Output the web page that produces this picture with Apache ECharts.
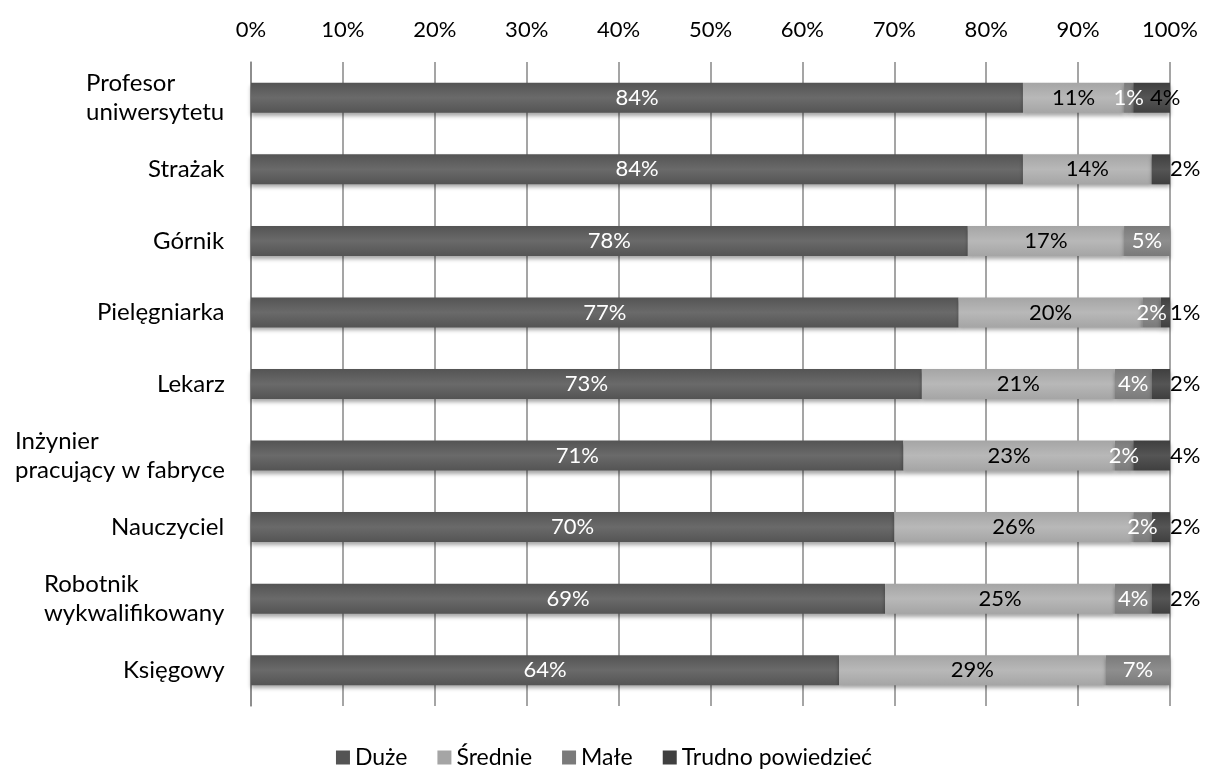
<!DOCTYPE html>
<html>
<head>
<meta charset="utf-8">
<script src="https://cdn.jsdelivr.net/npm/echarts@6/dist/echarts.min.js"></script>
<style>
  html, body { margin: 0; padding: 0; background: #fff; }
  #chart { width: 1208px; height: 770px; }
</style>
</head>
<body>
<div id="chart"></div>
<script>
// kategorie (od góry) i udziały odpowiedzi w %
var kategorie = ['Profesor\nuniwersytetu', 'Strażak', 'Górnik', 'Pielęgniarka', 'Lekarz',
    'Inżynier\npracujący w fabryce', 'Nauczyciel', 'Robotnik\nwykwalifikowany', 'Księgowy'];
var seriaNazwy = ['Duże', 'Średnie', 'Małe', 'Trudno powiedzieć'];
var duze    = [84, 84, 78, 77, 73, 71, 70, 69, 64];
var srednie = [11, 14, 17, 20, 21, 23, 26, 25, 29];
var male    = [1, 0, 5, 2, 4, 2, 2, 4, 7];
var trudno  = [4, 2, 0, 1, 2, 4, 2, 2, 0];
var osX = [0, 10, 20, 30, 40, 50, 60, 70, 80, 90, 100];

var FONT = 'Lato, "Open Sans", sans-serif';
var kolory = ['#545454', '#a5a5a5', '#7a7a7a', '#3f3f3f'];
var jasne  = ['#6a6a6a', '#b8b8b8', '#8e8e8e', '#555555'];
var kolorEtykiet = ['#fff', '#000', '#fff', '#000'];

// szerokość najdłuższej linii każdej etykiety (linie wyrównane do lewej w bloku)
var ctx = document.createElement('canvas').getContext('2d');
ctx.font = '24px ' + FONT;
var rich = {};
kategorie.forEach(function(k, i) {
    var w = 0;
    k.split('\n').forEach(function(l) { w = Math.max(w, ctx.measureText(l).width); });
    rich['c' + i] = { width: Math.ceil(w) + 1, align: 'left', fontSize: 24, fontFamily: FONT, color: '#000', lineHeight: 29 };
});

function gradient(i) {
    return new echarts.graphic.LinearGradient(0, 0, 0, 1, [
        { offset: 0, color: kolory[i] },
        { offset: 0.5, color: jasne[i] },
        { offset: 1, color: kolory[i] }
    ]);
}

var dane = [duze, srednie, male, trudno];
var series = dane.map(function(arr, i) {
    var d = arr.map(function(v, j) {
        var item = { value: v };
        if (i === 3 && j === 0) item.label = { offset: [-20, 0] };
        return item;
    });
    return {
        name: seriaNazwy[i],
        type: 'bar',
        stack: 'all',
        barWidth: 30,
        data: d,
        itemStyle: {
            color: gradient(i),
            shadowColor: 'rgba(0,0,0,0.35)',
            shadowBlur: 4,
            shadowOffsetY: 3
        },
        label: {
            show: true,
            position: i === 3 ? 'right' : 'inside',
            distance: 0,
            color: kolorEtykiet[i],
            fontSize: 22,
            fontFamily: FONT,
            formatter: function(p) { return p.value > 0 ? p.value + '%' : ''; }
        },
        emphasis: { disabled: true }
    };
});

var chart = echarts.init(document.getElementById('chart'));
chart.setOption({
    animation: false,
    backgroundColor: '#fff',
    grid: { left: 251, right: 38, top: 62, bottom: 64 },
    legend: {
        data: seriaNazwy.map(function(n, i) { return { name: n, itemStyle: { color: kolory[i] } }; }),
        top: 741,
        left: 'center',
        icon: 'rect',
        itemWidth: 14,
        itemHeight: 14,
        itemGap: 30,
        textStyle: { fontSize: 23, fontFamily: FONT, color: '#000' }
    },
    xAxis: {
        type: 'value',
        position: 'top',
        min: osX[0],
        max: osX[osX.length - 1],
        interval: 10,
        axisLine: { show: false },
        axisTick: { show: false },
        axisLabel: { formatter: '{value}%', fontSize: 22, fontFamily: FONT, color: '#000', margin: 21 },
        splitLine: { lineStyle: { color: '#878787', width: 1.5 } }
    },
    yAxis: {
        type: 'category',
        inverse: true,
        data: kategorie,
        axisLine: { lineStyle: { color: '#878787', width: 1.5 } },
        axisTick: { length: 9, lineStyle: { color: '#878787', width: 1.5 } },
        axisLabel: {
            margin: 25,
            formatter: function(v, idx) {
                return v.split('\n').map(function(l) { return '{c' + idx + '|' + l + '}'; }).join('\n');
            },
            rich: rich
        }
    },
    series: series
});
</script>
</body>
</html>
